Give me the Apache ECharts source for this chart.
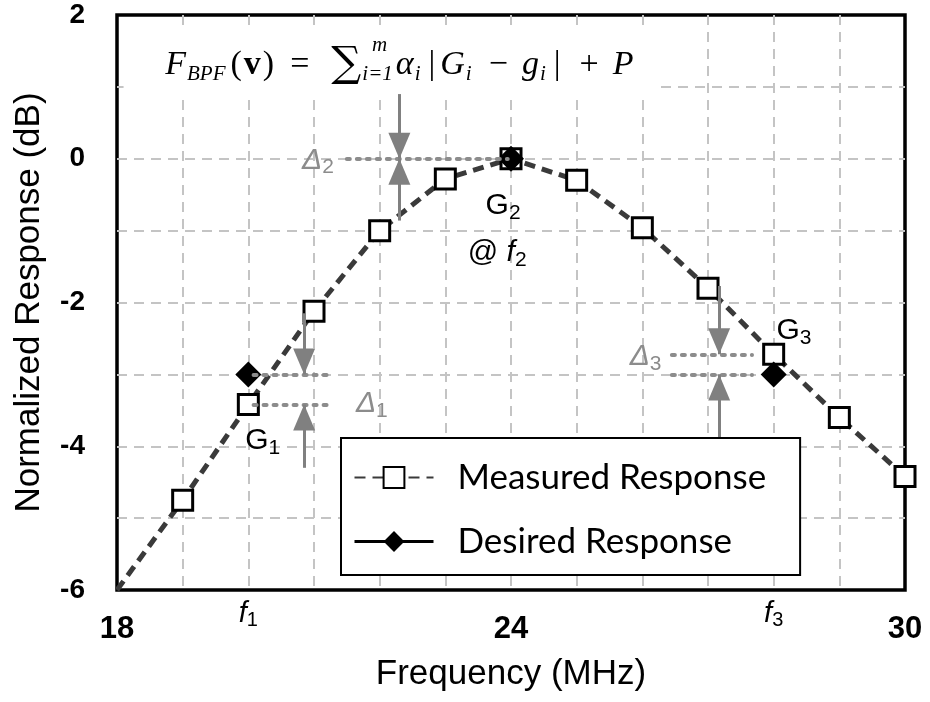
<!DOCTYPE html>
<html><head><meta charset="utf-8">
<script src="https://cdn.jsdelivr.net/npm/echarts@6/dist/echarts.min.js"></script>
<style>html,body{margin:0;padding:0;background:#fff}#c{width:930px;height:702px}</style>
</head><body><div id="c"></div>
<script>
// ---- data ----
const freqs = [18,19,20,21,22,23,24,25,26,27,28,29,30];
const measured = [-6,-4.75,-3.42,-2.12,-1.0,-0.28,0,-0.3,-0.96,-1.8,-2.72,-3.6,-4.42];
const desiredFreqs = [20,24,28];
const desired = [-3,0,-3];
const xTickLabels = {18:'18',24:'24',30:'30'};
const yTickLabels = {'2':'2','0':'0','-2':'-2','-4':'-4','-6':'-6'};
const freqMarks = {20:'1',28:'3'};
// annotation arrows: x, start y, tip y
const arrowX = [20.85,20.85,22.3,22.3,27.17,27.17];
const arrowStart = [-2.15,-4.3,0.9,-0.86,-1.77,-3.9];
const arrowTip = [-3.0,-3.42,0,0,-2.72,-3.0];
// delta guide lines: y, x start, x end
const guideY = [-3,-3.42,0,-2.72,-3];
const guideX0 = [20.08,20.08,21.5,26.45,26.45];
const guideX1 = [21.25,21.25,23.95,27.67,27.67];
// text annotations
const noteText = ['{g|G}{gs|1}','{g|G}{gs|2}','{g|G}{gs|3}','{d|Δ}{ds|1}','{d|Δ}{ds|2}','{d|Δ}{ds|3}','{g|@ }{gi|f}{gs|2}'];
const noteX = [20.22,23.88,28.31,21.88,21.06,26.05,23.79];
const noteY = [-3.92,-0.65,-2.39,-3.41,-0.02,-2.75,-1.31];
const formula = '{it|F}{sb|BPF}{rm|(}{bf|v}{rm|)}{op|=}{sum|∑}{sb|i=1}{it|α}{sb|i}{bar||}{it|G}{sb|i}{op|−}{it|g}{sb|i}{bar||}{op|+}{it|P}';
const formulaAt = [22.3, 1.3];
const supAt = [22.0, 1.58];
const blankArea = [[18.1, 1.86],[26.22, 0.91]];

// ---- chart ----
const chart = echarts.init(document.getElementById('c'));
const GRAY = '#808080';
const GRID = {show:true,showMinLine:false,showMaxLine:false,lineStyle:{color:'#c4c4c4',width:2,type:[10,7]}};
const richNotes = {
  g:{fontFamily:'Liberation Sans',fontSize:30,color:'#000',lineHeight:36},
  gi:{fontFamily:'Liberation Sans',fontStyle:'italic',fontSize:30,color:'#000',lineHeight:36},
  gs:{fontFamily:'Liberation Sans',fontSize:21,color:'#000',lineHeight:18,verticalAlign:'bottom'},
  d:{fontFamily:'Liberation Sans',fontStyle:'italic',fontSize:30,color:'#8c8c8c',lineHeight:36},
  ds:{fontFamily:'Liberation Sans',fontSize:21,color:'#8c8c8c',lineHeight:18,verticalAlign:'bottom'}
};
const FS = 34;
const richFormula = {
  it:{fontFamily:'Liberation Serif',fontStyle:'italic',fontSize:FS,color:'#000',lineHeight:40},
  rm:{fontFamily:'Liberation Serif',fontSize:FS,color:'#000',lineHeight:40,padding:[0,2,0,2]},
  bar:{fontFamily:'Liberation Serif',fontSize:FS,color:'#000',lineHeight:40,padding:[0,5,0,5]},
  op:{fontFamily:'Liberation Serif',fontSize:FS,color:'#000',lineHeight:40,padding:[0,14,0,14]},
  bf:{fontFamily:'Liberation Serif',fontWeight:'bold',fontSize:FS,color:'#000',lineHeight:40},
  sum:{fontFamily:'DejaVu Serif',fontSize:42,color:'#000',lineHeight:40,padding:[0,0,0,8]},
  sb:{fontFamily:'Liberation Serif',fontStyle:'italic',fontSize:21,color:'#000',lineHeight:18,verticalAlign:'bottom',padding:[0,3,0,1]},
  sup:{fontFamily:'Liberation Serif',fontStyle:'italic',fontSize:21,color:'#000'}
};

const option = {
  animation:false,
  backgroundColor:'#fff',
  grid:{left:117,right:25,top:15,bottom:112,show:true,borderColor:'#000',borderWidth:3.5,backgroundColor:'transparent'},
  xAxis:[{
    type:'value',min:18,max:30,interval:1,
    axisLine:{show:false},axisTick:{show:false},
    splitLine:GRID,
    axisLabel:{margin:24,fontFamily:'Liberation Sans',fontWeight:'bold',fontSize:31,color:'#000',
      formatter:v=>xTickLabels[v]||''},
    name:'Frequency (MHz)',nameLocation:'middle',nameGap:67,
    nameTextStyle:{fontFamily:'Liberation Sans',fontSize:35,color:'#000'}
  },{
    type:'value',min:18,max:30,interval:1,position:'bottom',
    axisLine:{show:false},axisTick:{show:false},splitLine:{show:false},
    axisLabel:{margin:8,formatter:v=>freqMarks[v]?('{f|f}{s|'+freqMarks[v]+'}'):'',
      rich:{f:{fontFamily:'Liberation Sans',fontStyle:'italic',fontSize:29,color:'#000',lineHeight:32},
            s:{fontFamily:'Liberation Sans',fontSize:20,color:'#000',lineHeight:16,verticalAlign:'bottom'}}}
  }],
  yAxis:{
    type:'value',min:-6,max:2,interval:1,
    axisLine:{show:false},axisTick:{show:false},
    splitLine:GRID,
    axisLabel:{margin:32,fontFamily:'Liberation Sans',fontWeight:'bold',fontSize:28,color:'#000',
      formatter:v=>yTickLabels[String(v)]||''},
    name:'Normalized Response (dB)',nameLocation:'middle',nameGap:70,
    nameTextStyle:{fontFamily:'Liberation Sans',fontSize:35,color:'#000'}
  },
  legend:{
    orient:'vertical',left:341,top:438,z:10,
    backgroundColor:'#fff',borderColor:'#000',borderWidth:2,borderRadius:0,
    padding:[22,34,16,12],itemWidth:79,itemHeight:26,itemGap:29,
    formatter:n=>'{t|'+n+'}',
    textStyle:{rich:{t:{fontFamily:'Lato',fontSize:35,color:'#000',lineHeight:36,padding:[0,0,0,19]}}},
    data:[{name:'Measured Response'},
          {name:'Desired Response',lineStyle:{opacity:1,width:3,color:'#000',type:'solid'}}]
  },
  series:[
    {
      name:'bg',type:'line',data:[],z:1,silent:true,
      markArea:{silent:true,itemStyle:{color:'#fff'},
        data:[[{coord:blankArea[0]},{coord:blankArea[1]}]]}
    },
    {
      name:'guides',type:'line',data:[],z:2,silent:true,
      markLine:{silent:true,symbol:['none','none'],animation:false,label:{show:false},
        lineStyle:{color:'#8c8c8c',width:4,type:[3,7],cap:'round'},
        data:guideY.map((y,i)=>[{coord:[guideX0[i],y]},{coord:[guideX1[i],y]}])}
    },
    {
      name:'arrows',type:'line',data:[],z:2,silent:true,
      markLine:{silent:true,symbol:['none','triangle'],symbolSize:[22,26],symbolOffset:[0,[0,13]],
        animation:false,label:{show:false},
        lineStyle:{color:GRAY,width:3,type:'solid'},
        data:arrowX.map((x,i)=>[{coord:[x,arrowStart[i]]},{coord:[x,arrowTip[i]]}])}
    },
    {
      name:'Measured Response',type:'line',z:3,
      data:freqs.map((f,i)=>i===0?{value:[f,measured[i]],symbol:'none'}:[f,measured[i]]),
      symbol:'rect',symbolSize:20,showAllSymbol:true,
      itemStyle:{color:'#fff',borderColor:'#000',borderWidth:3},
      lineStyle:{color:'#3a3a3a',width:5,type:[11,7]}
    },
    {
      name:'Desired Response',type:'line',z:4,
      data:desiredFreqs.map((f,i)=>[f,desired[i]]),
      symbol:'diamond',symbolSize:26,
      itemStyle:{color:'#000'},
      lineStyle:{color:'#000',width:3,opacity:0}
    },
    {
      name:'notes',type:'line',data:[],z:6,silent:true,
      markPoint:{silent:true,symbol:'circle',symbolSize:1,itemStyle:{color:'rgba(0,0,0,0)'},
        label:{show:true,position:'inside',rich:Object.assign({},richNotes,richFormula)},
        data:noteText.map((t,i)=>({coord:[noteX[i],noteY[i]],label:{formatter:t}}))
          .concat([{coord:formulaAt,label:{formatter:formula}},
                   {coord:supAt,label:{formatter:'{sup|m}'}}])}
    }
  ]
};
chart.setOption(option);
</script></body></html>
